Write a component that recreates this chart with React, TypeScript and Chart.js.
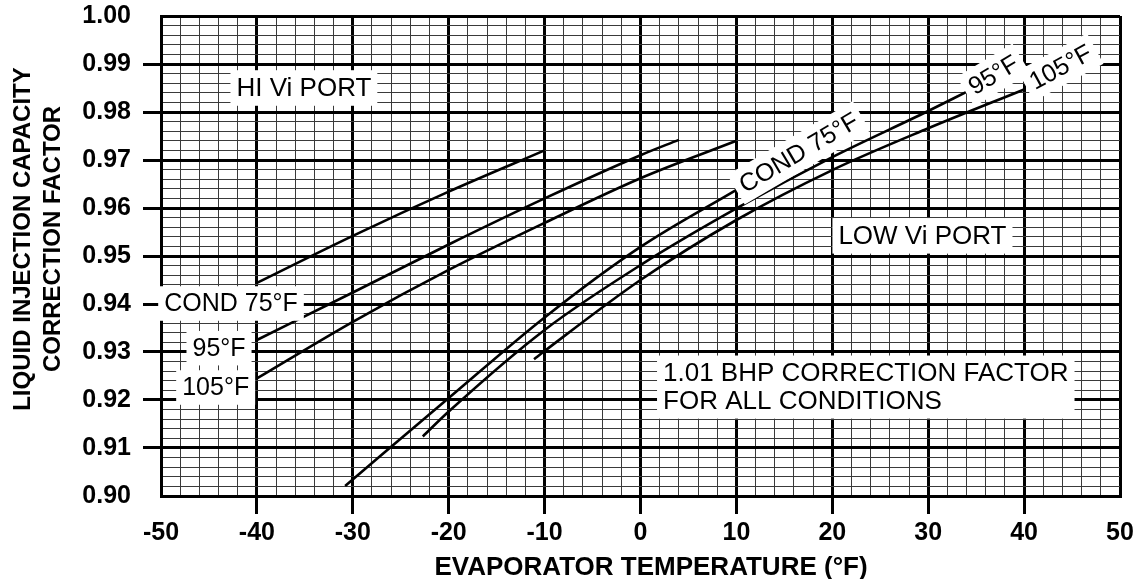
import React, { useEffect, useRef } from 'react';
import { Chart, registerables } from 'chart.js';

Chart.register(...registerables);

const FONT = '"Liberation Sans", Arial, Helvetica, sans-serif';

// Axis ranges and tick steps
const X_MIN = -50;
const X_MAX = 50;
const X_MINOR_STEP = 2;
const Y_MIN = 0.9;
const Y_MAX = 1.0;
const Y_MINOR_STEP = 0.002;

// HI Vi PORT curves (evaporator temperature °F -> correction factor)
const hiVi75X = [-40, -30, -20, -10];
const hiVi75Y = [0.9444, 0.9542, 0.9634, 0.972];
const hiVi95X = [-40, -30, -20, -10, 0, 4];
const hiVi95Y = [0.9325, 0.9424, 0.9524, 0.962, 0.971, 0.9742];
const hiVi105X = [-40, -30, -20, -10, 0, 10];
const hiVi105Y = [0.9245, 0.9363, 0.9471, 0.9569, 0.9662, 0.974];

// LOW Vi PORT curves
const lowVi75X = [-30.8, -20, -10, 0, 10];
const lowVi75Y = [0.9021, 0.9204, 0.9372, 0.9519, 0.9638];
const lowVi95X = [-22.7, -20, -10, 0, 10, 20, 30, 34];
const lowVi95Y = [0.9124, 0.9176, 0.9346, 0.9481, 0.9599, 0.9706, 0.9802, 0.9842];
const lowVi105X = [-11.1, -10, 0, 10, 20, 30, 40];
const lowVi105Y = [0.9285, 0.9302, 0.945, 0.9575, 0.9679, 0.9766, 0.9847];

// Text labels placed in data coordinates
const labelTexts = [
  ['HI Vi PORT'],
  ['LOW Vi PORT'],
  ['COND 75°F'],
  ['95°F'],
  ['105°F'],
  ['1.01 BHP CORRECTION FACTOR', 'FOR ALL CONDITIONS'],
  ['COND 75°F'],
  ['95°F'],
  ['105°F'],
];
const labelX = [-35.1, 29.4, -42.7, -43.95, -44.3, 2.35, 16.5, 36.8, 43.8];
const labelY = [0.985, 0.9542, 0.9401, 0.9308, 0.9226, 0.92556, 0.9715, 0.9877, 0.9893];
const labelAngle = [0, 0, 0, 0, 0, 0, -30.5, -31, -28.5];
const labelSize = [26, 26, 25, 25, 25, 26, 25, 25, 25];
const labelAlign = ['center', 'center', 'center', 'center', 'center', 'left', 'center', 'center', 'center'];

const xTitle = 'EVAPORATOR TEMPERATURE (°F)';
const yTitle = ['LIQUID INJECTION CAPACITY', 'CORRECTION FACTOR'];

const isMajorX = (v: number) => Math.abs(v % 10) < 1e-6;
const isMajorY = (v: number) => Math.abs(Math.round(v * 100) - v * 100) < 1e-6;

const toPoints = (xs: number[], ys: number[]) => xs.map((x, i) => ({ x, y: ys[i] }));

const seriesList = [
  toPoints(hiVi75X, hiVi75Y),
  toPoints(hiVi95X, hiVi95Y),
  toPoints(hiVi105X, hiVi105Y),
  toPoints(lowVi75X, lowVi75Y),
  toPoints(lowVi95X, lowVi95Y),
  toPoints(lowVi105X, lowVi105Y),
];

const labelsPlugin = {
  id: 'chartLabels',
  afterDatasetsDraw(chart: any) {
    const { ctx, chartArea } = chart;
    const xs = chart.scales.x;
    const ys = chart.scales.y;
    ctx.save();
    labelTexts.forEach((lines, i) => {
      const px = xs.getPixelForValue(labelX[i]);
      const py = ys.getPixelForValue(labelY[i]);
      const size = labelSize[i];
      const lh = size * 1.06;
      ctx.save();
      ctx.translate(px, py);
      ctx.rotate((labelAngle[i] * Math.PI) / 180);
      ctx.font = `${size}px ${FONT}`;
      const w = Math.max(...lines.map((l) => ctx.measureText(l).width));
      const h = lh * lines.length;
      const left = labelAlign[i] === 'left' ? 0 : -w / 2;
      const padX = 6;
      const padY = 4;
      ctx.fillStyle = '#ffffff';
      ctx.fillRect(left - padX, -lh / 2 - padY, w + padX * 2, h + padY * 2);
      ctx.fillStyle = '#000000';
      ctx.textAlign = labelAlign[i] as CanvasTextAlign;
      ctx.textBaseline = 'middle';
      lines.forEach((l, j) => ctx.fillText(l, 0, j * lh + 1));
      ctx.restore();
    });

    // Axis titles
    ctx.fillStyle = '#000000';
    ctx.textAlign = 'center';
    ctx.textBaseline = 'middle';
    ctx.font = `bold 26px ${FONT}`;
    const cx = (chartArea.left + chartArea.right) / 2;
    ctx.fillText(xTitle, cx + 10.5, chartArea.bottom + 72);

    ctx.font = `bold 24px ${FONT}`;
    const cy = (chartArea.top + chartArea.bottom) / 2 - 17;
    yTitle.forEach((t, j) => {
      ctx.save();
      ctx.translate(chartArea.left - 139 + j * 30, cy);
      ctx.rotate(-Math.PI / 2);
      ctx.fillText(t, 0, 1);
      ctx.restore();
    });
    ctx.restore();
  },
};

export default function App() {
  const canvasRef = useRef<HTMLCanvasElement | null>(null);

  useEffect(() => {
    const canvas = canvasRef.current;
    if (!canvas) return;
    const chart = new Chart(canvas, {
      type: 'line',
      data: {
        datasets: seriesList.map((pts) => ({
          data: pts,
          borderColor: '#000000',
          borderWidth: 2.6,
          pointRadius: 0,
          fill: false,
          cubicInterpolationMode: 'monotone' as const,
        })),
      },
      options: {
        animation: false,
        responsive: false,
        devicePixelRatio: 1,
        layout: { padding: { left: 0, right: 14, top: 16, bottom: 0 } },
        plugins: {
          legend: { display: false },
          tooltip: { enabled: false },
        },
        scales: {
          x: {
            type: 'linear',
            min: X_MIN,
            max: X_MAX,
            ticks: {
              stepSize: X_MINOR_STEP,
              maxTicksLimit: 1000,
              autoSkip: false,
              maxRotation: 0,
              padding: 4,
              color: '#000000',
              font: { family: FONT, size: 25, weight: 'bold' },
              callback: (v: any) => (isMajorX(Number(v)) ? String(v) : ''),
            },
            grid: {
              color: (c: any) => (c.tick && isMajorX(c.tick.value) ? '#000000' : '#3a3a3a'),
              lineWidth: (c: any) => (c.tick && isMajorX(c.tick.value) ? 3 : 1),
              tickLength: 18,
              tickWidth: 3,
              tickColor: (c: any) =>
                c.tick && isMajorX(c.tick.value) && c.tick.value !== X_MIN && c.tick.value !== X_MAX
                  ? '#000000'
                  : 'rgba(0,0,0,0)',
            },
            border: { display: true, color: '#000000', width: 3 },
            afterFit: (s: any) => {
              s.height = 83;
              s.paddingLeft = 0;
              s.paddingRight = 0;
            },
          },
          y: {
            type: 'linear',
            min: Y_MIN,
            max: Y_MAX,
            ticks: {
              stepSize: Y_MINOR_STEP,
              maxTicksLimit: 1000,
              autoSkip: false,
              padding: 12,
              color: '#000000',
              font: { family: FONT, size: 25, weight: 'bold' },
              callback: (v: any) => (isMajorY(Number(v)) ? Number(v).toFixed(2) : ''),
            },
            grid: {
              color: (c: any) => (c.tick && isMajorY(c.tick.value) ? '#000000' : '#3a3a3a'),
              lineWidth: (c: any) => (c.tick && isMajorY(c.tick.value) ? 3 : 1),
              tickLength: 18,
              tickWidth: 3,
              tickColor: (c: any) =>
                c.tick &&
                isMajorY(c.tick.value) &&
                Math.abs(c.tick.value - Y_MIN) > 1e-6 &&
                Math.abs(c.tick.value - Y_MAX) > 1e-6
                  ? '#000000'
                  : 'rgba(0,0,0,0)',
            },
            border: { display: true, color: '#000000', width: 3 },
            afterFit: (s: any) => {
              s.width = 161;
              s.paddingTop = 0;
              s.paddingBottom = 0;
            },
          },
        },
      },
      plugins: [labelsPlugin],
    });
    return () => chart.destroy();
  }, []);

  return (
    <div style={{ position: 'absolute', left: 0, top: 0, width: 1134, height: 579, background: '#ffffff' }}>
      <canvas ref={canvasRef} width={1134} height={579} />
    </div>
  );
}
